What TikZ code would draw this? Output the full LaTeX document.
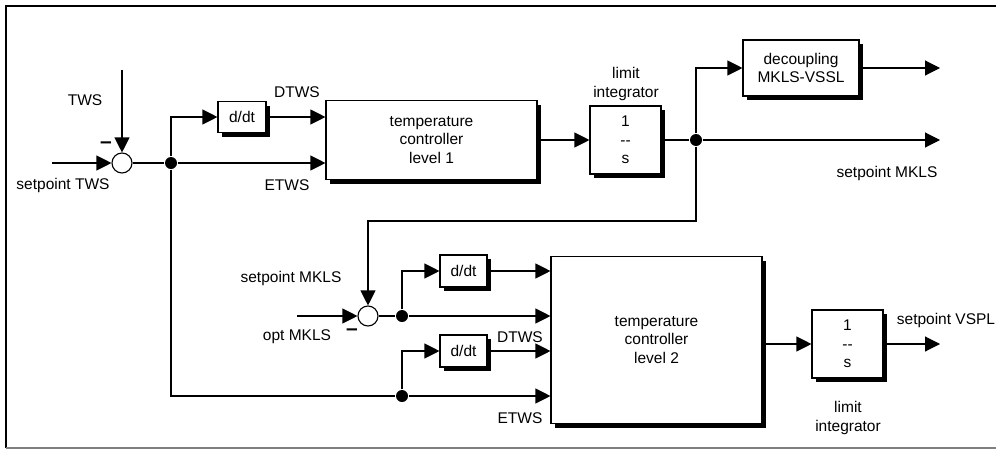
\documentclass[tikz,border=0pt]{standalone}
\usepackage{fontspec}
\setmainfont{Liberation Sans}
\usetikzlibrary{arrows.meta,shadows}

\begin{document}
\begin{tikzpicture}[x=1pt,y=-1pt,line width=1.1pt,
  font=\fontsize{15.5}{18.5}\selectfont,
  >={Triangle[length=15pt,width=15pt]},
  block/.style={draw, fill=white, inner sep=0pt, align=center,
    drop shadow={shadow xshift=4pt, shadow yshift=-4pt, fill=black, opacity=1}},
  sumpt/.style={draw, circle, fill=white, minimum size=20pt, inner sep=0pt},
  dotpt/.style={circle, fill=black, minimum size=12pt, inner sep=0pt},
  lbl/.style={align=center, inner sep=0pt},
  minus/.style={inner sep=0pt, font=\bfseries\fontsize{21}{21}\selectfont}]
\useasboundingbox (0,0) rectangle (996,450);
% frame
\draw[line width=1.4pt] (996,6) -- (6,6) -- (6,448);
\draw[line width=1.4pt, gray] (6,448) -- (996,448);

% level 1
\node[sumpt] (sumA) at (122,163) {};
\node[dotpt] (dotA) at (171,163) {};
\node[block, minimum width=48pt, minimum height=31pt] (ddtA) at (242,117) {d/dt};
\node[block, minimum width=211pt, minimum height=79pt] (ctrlA) at (431.5,140) {temperature\\controller\\level 1};
\node[block, minimum width=71pt, minimum height=68pt] (intA) at (625.5,140) {1\\-{}-\\s};
\node[dotpt] (dotB) at (696,140) {};
\node[block, minimum width=116pt, minimum height=56pt] (decA) at (801,68) {decoupling\\MKLS-VSSL};
\coordinate (twsin) at (122,70);
\coordinate (spin) at (52,163);
\coordinate (mklsout) at (940,140);
\coordinate (decout) at (940,68);

\node[lbl] (twsl) at (85,100) {TWS};
\node[minus] (minA) at (106,145) {–};
\node[lbl] (sptwsl) at (63,185) {setpoint TWS};
\node[lbl] (dtwsA) at (297,92) {DTWS};
\node[lbl] (etwsA) at (287,185) {ETWS};
\node[lbl] (limA) at (626,84) {limit\\integrator};
\node[lbl] (mklsl) at (887,173) {setpoint MKLS};

\draw[->] (twsin) -- (sumA);
\draw[->] (spin) -- (sumA);
\draw (sumA) -- (dotA);
\draw[->] (dotA) -- (ctrlA.west |- dotA);
\draw[->] (dotA) |- (ddtA);
\draw[->] (ddtA) -- (ctrlA.west |- ddtA);
\draw[->] (ctrlA.east |- intA) -- (intA);
\draw (intA) -- (dotB);
\draw[->] (dotB) -- (mklsout);
\draw[->] (dotB) |- (decA);
\draw[->] (decA) -- (decout);

% level 2
\node[sumpt] (sumB) at (368,316) {};
\node[dotpt] (dotC) at (402,316) {};
\node[dotpt] (dotD) at (402,396) {};
\node[block, minimum width=47pt, minimum height=32pt] (ddtB) at (463.5,271) {d/dt};
\node[block, minimum width=47pt, minimum height=32pt] (ddtC) at (463.5,351) {d/dt};
\node[block, minimum width=211pt, minimum height=167pt] (ctrlB) at (656.5,340) {temperature\\controller\\level 2};
\node[block, minimum width=71pt, minimum height=68pt] (intB) at (847.5,344) {1\\-{}-\\s};
\coordinate (fbk) at (368,221);
\coordinate (optin) at (297,316);
\coordinate (vsplout) at (940,344);

\node[lbl] (mklsin) at (291,278) {setpoint MKLS};
\node[minus] (minB) at (352,332) {–};
\node[lbl] (optl) at (297,337) {opt MKLS};
\node[lbl] (dtwsB) at (520,337) {DTWS};
\node[lbl] (etwsB) at (520,418) {ETWS};
\node[lbl] (vspll) at (946,320) {setpoint VSPL};
\node[lbl] (limB) at (848,418) {limit\\integrator};

\draw[->] (dotB) |- (fbk) -- (sumB);
\draw[->] (optin) -- (sumB);
\draw (sumB) -- (dotC);
\draw[->] (dotC) -- (ctrlB.west |- dotC);
\draw[->] (dotC) |- (ddtB);
\draw[->] (ddtB) -- (ctrlB.west |- ddtB);
\draw (dotA) |- (dotD);
\draw[->] (dotD) -- (ctrlB.west |- dotD);
\draw[->] (dotD) |- (ddtC);
\draw[->] (ddtC) -- (ctrlB.west |- ddtC);
\draw[->] (ctrlB.east |- intB) -- (intB);
\draw[->] (intB) -- (vsplout);
\end{tikzpicture}
\end{document}
